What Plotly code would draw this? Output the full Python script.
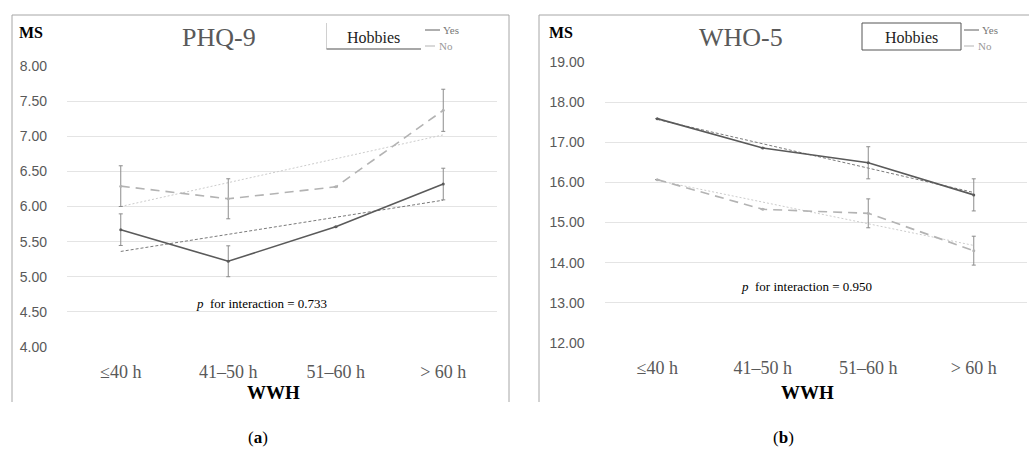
import plotly.graph_objects as go

# ---------------- data ----------------
categories = ["≤40 h", "41–50 h", "51–60 h", "> 60 h"]

# Panel (a) PHQ-9
phq_yes = [5.67, 5.22, 5.71, 6.32]
phq_yes_err = [0.225, 0.22, None, 0.225]
phq_no = [6.29, 6.11, 6.28, 7.37]
phq_no_err = [0.29, 0.285, None, 0.30]
phq_yes_trend = [5.36, 6.09]   # linear trend at first / last category
phq_no_trend = [6.00, 7.02]
phq_ticks = [4.0, 4.5, 5.0, 5.5, 6.0, 6.5, 7.0, 7.5, 8.0]

# Panel (b) WHO-5
who_yes = [17.59, 16.86, 16.49, 15.69]
who_yes_err = [None, None, 0.40, 0.40]
who_no = [16.07, 15.33, 15.23, 14.30]
who_no_err = [None, None, 0.36, 0.36]
who_yes_trend = [17.57, 15.75]
who_no_trend = [16.05, 14.43]
who_ticks = [12, 13, 14, 15, 16, 17, 18, 19]

trend_x = [categories[0], categories[-1]]

W, H = 1029, 464
SERIF = "Liberation Serif, Times New Roman, serif"
SANS = "Liberation Sans"

def px(x):
    return x / W

def py(y):
    return 1 - y / H

fig = go.Figure()

def add_panel(xa, ya, yes, yes_err, no, no_err, yes_tr, no_tr):
    fig.add_trace(go.Scatter(x=trend_x, y=yes_tr, mode="lines", xaxis=xa, yaxis=ya,
                             line=dict(color="#7a7a7a", width=1, dash="3px,2px"),
                             showlegend=False, hoverinfo="skip"))
    fig.add_trace(go.Scatter(x=trend_x, y=no_tr, mode="lines", xaxis=xa, yaxis=ya,
                             line=dict(color="#cccccc", width=1, dash="2px,2px"),
                             showlegend=False, hoverinfo="skip"))
    fig.add_trace(go.Scatter(x=categories, y=no, mode="lines+markers", xaxis=xa, yaxis=ya,
                             line=dict(color="#b3b3b3", width=1.6, dash="9px,6px"),
                             marker=dict(size=3, color="#b3b3b3"),
                             error_y=dict(type="data", array=[e if e is not None else 0 for e in no_err],
                                          visible=True, color="#8c8c8c", thickness=1, width=2),
                             showlegend=False, name="No"))
    fig.add_trace(go.Scatter(x=categories, y=yes, mode="lines+markers", xaxis=xa, yaxis=ya,
                             line=dict(color="#5a5a5a", width=1.6),
                             marker=dict(size=3, color="#5a5a5a"),
                             error_y=dict(type="data", array=[e if e is not None else 0 for e in yes_err],
                                          visible=True, color="#8c8c8c", thickness=1, width=2),
                             showlegend=False, name="Yes"))

add_panel("x", "y", phq_yes, phq_yes_err, phq_no, phq_no_err, phq_yes_trend, phq_no_trend)
add_panel("x2", "y2", who_yes, who_yes_err, who_no, who_no_err, who_yes_trend, who_no_trend)

xcommon = dict(type="category", categoryorder="array", categoryarray=categories,
               range=[-0.5, 3.5], showgrid=False, zeroline=False, showline=False,
               ticks="", ticklabelstandoff=12, automargin=False,
               tickfont=dict(family=SERIF, size=18, color="#595959"))
ycommon = dict(showgrid=True, gridcolor="#e4e4e4", gridwidth=1, zeroline=False,
               showline=False, ticks="", tickformat=".2f", ticklabelstandoff=19,
               automargin=False,
               tickfont=dict(family=SANS, size=14, color="#595959"))

fig.update_layout(
    width=W, height=H, margin=dict(l=0, r=0, t=0, b=0, autoexpand=False),
    paper_bgcolor="white", plot_bgcolor="white", showlegend=False,
    xaxis=dict(domain=[px(67), px(497)], anchor="y", **xcommon),
    yaxis=dict(domain=[py(347), py(66)], anchor="x", range=[3.999, 8.001],
               tickvals=phq_ticks, **ycommon),
    xaxis2=dict(domain=[px(604.5), px(1026.5)], anchor="y2", **xcommon),
    yaxis2=dict(domain=[py(343), py(62)], anchor="x2", range=[11.999, 19.001],
                tickvals=who_ticks, **ycommon),
)

shapes = []
border = dict(color="#a6a6a6", width=1)
# panel frames (bottom open)
for x0, x1 in [(12, 509), (539, 1029)]:
    shapes.append(dict(type="line", xref="paper", yref="paper", x0=px(x0), x1=px(x0),
                       y0=py(402), y1=py(15), line=border))
    shapes.append(dict(type="line", xref="paper", yref="paper", x0=px(x0), x1=px(x1),
                       y0=py(15), y1=py(15), line=border))
shapes.append(dict(type="line", xref="paper", yref="paper", x0=px(509), x1=px(509),
                   y0=py(402), y1=py(15), line=border))

# "Hobbies" boxes
shapes.append(dict(type="line", xref="paper", yref="paper", x0=px(326.5), x1=px(326.5),
                   y0=py(49), y1=py(23), line=dict(color="#d0d0d0", width=1)))
shapes.append(dict(type="line", xref="paper", yref="paper", x0=px(326.5), x1=px(421),
                   y0=py(49), y1=py(49), line=dict(color="#8a8a8a", width=1.5)))
shapes.append(dict(type="rect", xref="paper", yref="paper", x0=px(862), x1=px(961),
                   y0=py(50), y1=py(23), line=dict(color="#555555", width=1)))

# legend samples
for lx in [425, 964]:
    shapes.append(dict(type="line", xref="paper", yref="paper", x0=px(lx), x1=px(lx + 15),
                       y0=py(30), y1=py(30), line=dict(color="#5f5f5f", width=1)))
    shapes.append(dict(type="line", xref="paper", yref="paper", x0=px(lx), x1=px(lx + 10),
                       y0=py(46), y1=py(46), line=dict(color="#b3b3b3", width=1)))
fig.update_layout(shapes=shapes)

ann = []
def text(x, y, t, size, color="black", family=SERIF, xanchor="center"):
    ann.append(dict(x=px(x), y=py(y), xref="paper", yref="paper", text=t, showarrow=False,
                    xanchor=xanchor, yanchor="middle",
                    font=dict(family=family, size=size, color=color)))

text(17, 33, "<b>MS</b>", 16, xanchor="left")
text(547, 33, "<b>MS</b>", 16, xanchor="left")
text(219, 37, "PHQ-9", 26, color="#595959")
text(741, 37, "WHO-5", 26, color="#595959")
text(273, 392, "<b>WWH</b>", 19)
text(807, 392, "<b>WWH</b>", 19)
text(261, 303, "<i>p</i>  for interaction = 0.733", 13)
text(806, 286, "<i>p</i>  for interaction = 0.950", 13)
for lx in [425, 964]:
    text(lx + 16, 30, "Yes", 11, color="#777777", xanchor="left")
    text(lx + 12, 46, "No", 11, color="#999999", xanchor="left")

text(373, 38, "Hobbies", 16, color="#222222")
text(911, 37, "Hobbies", 16, color="#222222")
text(258, 437, "(<b>a</b>)", 17)
text(783, 437, "(<b>b</b>)", 17)
fig.update_layout(annotations=ann)

fig.write_html("out.html", config={"displayModeBar": False},
               post_script="document.body.style.margin='0';document.body.style.overflow='hidden';")
